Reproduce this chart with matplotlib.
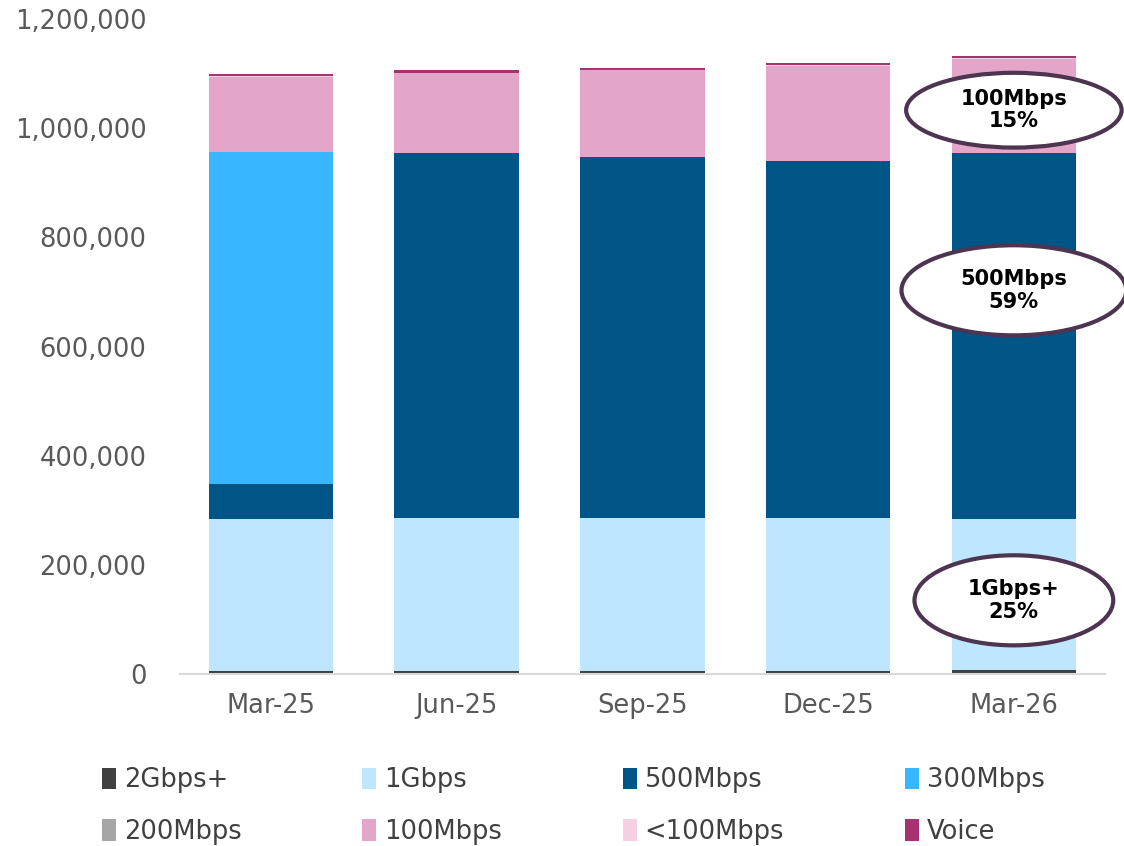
import numpy as np
import matplotlib.pyplot as plt
from matplotlib.patches import Ellipse, Patch

# data
quarters = ["Mar-25", "Jun-25", "Sep-25", "Dec-25", "Mar-26"]
series = ["2Gbps+", "1Gbps", "500Mbps", "300Mbps", "200Mbps", "100Mbps", "<100Mbps", "Voice"]
gbps2 = [5000, 5000, 6000, 6000, 7000]
gbps1 = [279000, 281000, 280000, 280000, 277000]
mbps500 = [64000, 668000, 661000, 654000, 670000]
mbps300 = [608000, 0, 0, 0, 0]
mbps200 = [0, 0, 0, 0, 0]
mbps100 = [138000, 147000, 159000, 174000, 173000]
mbps_lt100 = [1000, 1000, 1000, 1000, 1000]
voice = [4000, 4000, 4000, 4000, 4000]

colors = ["#404040", "#bfe6ff", "#005587", "#38b6ff", "#a6a6a6", "#e3a6c8", "#f5d0e3", "#a6336f"]

# callouts for the latest quarter
callouts = [("100Mbps\n15%", 1033000, 1.16, 137000),
            ("500Mbps\n59%", 703000, 1.21, 165000),
            ("1Gbps+\n25%", 135000, 1.07, 165000)]

fig = plt.figure(figsize=(11.24, 8.46), dpi=100)
ax = fig.add_axes([0.160, 0.2033, 0.823, 0.7742])

x = np.arange(len(quarters))
bottom = np.zeros(len(quarters))
for vals, c in zip([gbps2, gbps1, mbps500, mbps300, mbps200, mbps100, mbps_lt100, voice], colors):
    ax.bar(x, vals, width=0.67, bottom=bottom, color=c, edgecolor="none")
    bottom += np.array(vals)

ax.set_ylim(0, 1200000)
ax.set_xlim(-0.49, 4.49)
ax.set_yticks(np.arange(0, 1200001, 200000))
ax.yaxis.set_major_formatter(plt.FuncFormatter(lambda v, p: f"{int(v):,}"))
ax.set_xticks(x)
ax.set_xticklabels(quarters)
ax.tick_params(axis="both", length=0, labelsize=18.5, colors="#595959")
ax.tick_params(axis="x", pad=14)
ax.tick_params(axis="y", pad=24)
for s in ["top", "right", "left"]:
    ax.spines[s].set_visible(False)
ax.spines["bottom"].set_color("#d9d9d9")
ax.spines["bottom"].set_linewidth(1.5)

for label, yc, w, h in callouts:
    e = Ellipse((4.0, yc), w, h, facecolor="white", edgecolor="#4d3451", lw=3, clip_on=False, zorder=5)
    ax.add_patch(e)
    ax.text(4.0, yc, label, ha="center", va="center", fontsize=15, fontweight="bold",
            color="black", zorder=6, linespacing=1.15)

# legend fills column by column, so reorder to read row by row
order = [0, 4, 1, 5, 2, 6, 3, 7]
handles = [Patch(facecolor=colors[i], edgecolor="none") for i in order]
labels = [series[i] for i in order]
fig.legend(handles, labels, loc="lower left", bbox_to_anchor=(0.07, -0.026), ncol=4, frameon=False,
           fontsize=18.5, labelcolor="#404040", handlelength=0.55, handleheight=0.9,
           handletextpad=0.3, columnspacing=4.7, labelspacing=1.0)

plt.savefig("out.png", dpi=100)
